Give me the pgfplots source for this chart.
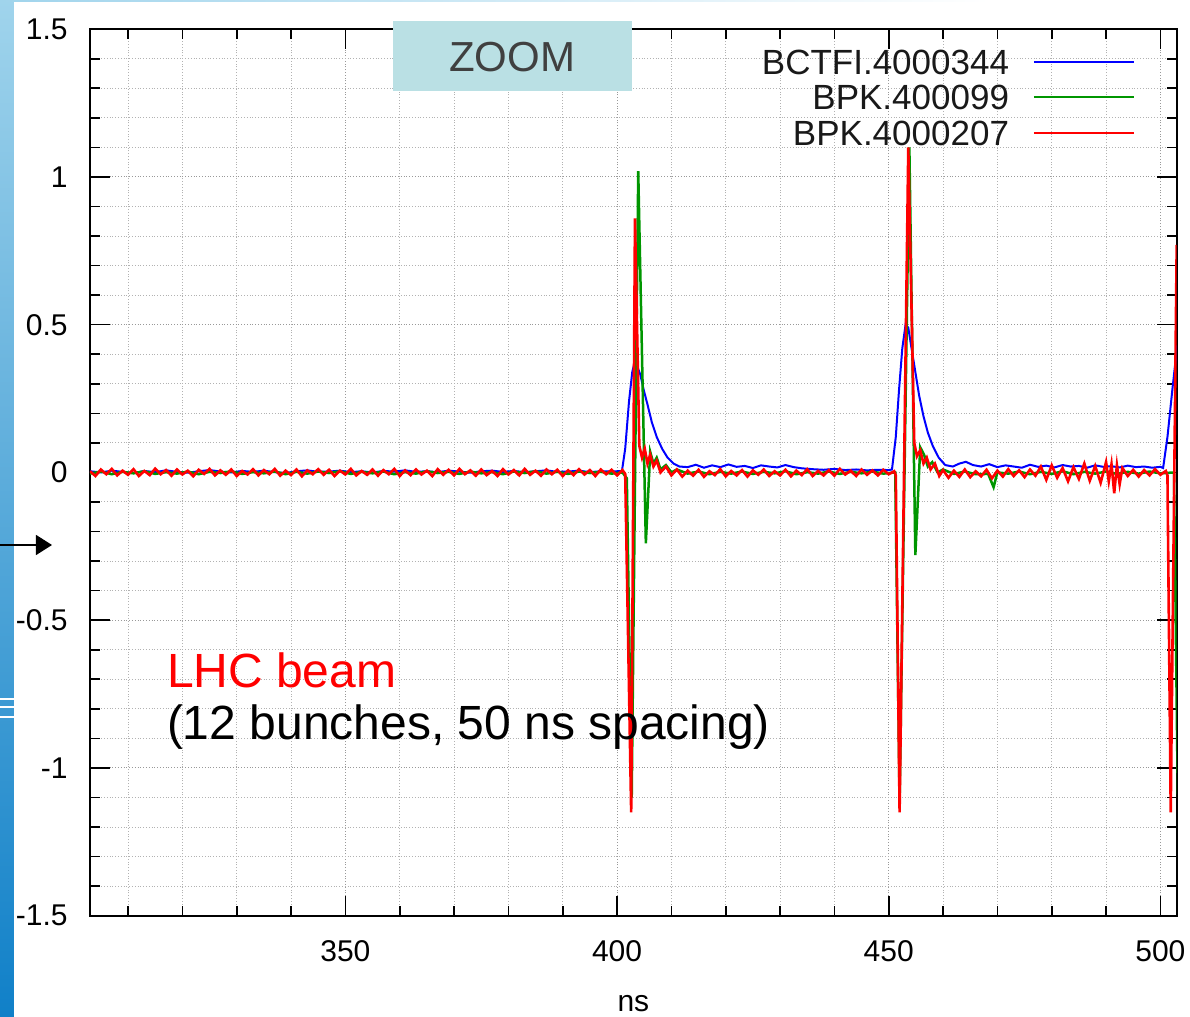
\documentclass[border=0pt]{standalone}
\usepackage{pgfplots}
\pgfplotsset{compat=1.18}
\usepackage{fontspec}
\setmainfont{Liberation Sans}
\usetikzlibrary{arrows.meta}
\definecolor{gpblue}{RGB}{0,0,255}
\definecolor{gpgreen}{RGB}{0,150,0}
\definecolor{gpred}{RGB}{255,0,0}
\definecolor{zoombox}{RGB}{186,224,228}
\definecolor{stripetop}{RGB}{160,212,236}
\definecolor{stripebot}{RGB}{16,128,200}
\definecolor{zoomtext}{RGB}{64,64,64}

\pgfplotstableread{
x y
303 0.004
305 0.000
307 0.006
309 0.002
311 -0.002
313 0.005
315 0.001
317 0.007
319 0.002
321 -0.001
323 0.004
325 0.008
327 0.003
329 0.000
331 0.005
333 0.002
335 0.006
337 0.001
339 -0.002
341 0.004
343 0.007
345 0.002
347 0.003
349 0.006
351 0.001
353 0.004
355 0.000
357 0.005
359 0.003
361 0.007
363 0.002
365 0.004
367 0.001
369 0.006
371 0.003
373 -0.001
375 0.004
377 0.006
379 0.002
381 0.005
383 0.001
385 0.004
387 0.007
389 0.002
391 0.003
393 0.006
395 0.001
397 0.004
399 0.003
400.9 0.005
401.5 0.08
402.2 0.24
402.8 0.34
403.2 0.37
403.7 0.36
404.3 0.33
404.9 0.28
405.6 0.23
406.4 0.17
407.3 0.12
408.3 0.08
409.3 0.05
410.4 0.03
411.5 0.02
413 0.018
414.5 0.026
416 0.016
417.5 0.024
419 0.018
420.5 0.027
422 0.019
423.5 0.022
425 0.015
426.5 0.024
428 0.020
429.5 0.017
431 0.025
432.5 0.018
434 0.014
436 0.011
438 0.009
440 0.012
442 0.008
444 0.010
446 0.007
448 0.009
450 0.008
450.6 0.010
451.3 0.12
451.9 0.28
452.5 0.42
453.1 0.50
453.6 0.49
454.2 0.42
454.9 0.34
455.6 0.26
456.4 0.19
457.2 0.135
458.1 0.09
459.2 0.05
460.4 0.025
461.8 0.020
463 0.030
464.2 0.036
465.5 0.025
467 0.020
468.5 0.028
470 0.018
471.5 0.024
473 0.020
474.5 0.016
476 0.026
477.5 0.019
479 0.023
480.5 0.017
482 0.025
483.5 0.020
485 0.022
486.5 0.016
488 0.024
489.5 0.019
491 0.021
492.5 0.017
494 0.023
495.5 0.018
497 0.020
498.5 0.016
500 0.019
500.5 0.015
501.3 0.12
502.2 0.28
503.1 0.43
}\bluedata

\pgfplotstableread{
x y
303 -0.004
305 0.003
307 -0.006
309 0.002
311 -0.003
313 0.004
315 -0.005
317 0.001
319 -0.004
321 0.003
323 -0.006
325 0.002
327 -0.002
329 0.004
331 -0.005
333 0.001
335 -0.003
337 0.003
339 -0.006
341 0.002
343 -0.004
345 0.003
347 -0.002
349 0.004
351 -0.005
353 0.002
355 -0.003
357 0.003
359 -0.006
361 0.001
363 -0.004
365 0.004
367 -0.002
369 0.002
371 -0.005
373 0.003
375 -0.003
377 0.001
379 -0.006
381 0.003
383 -0.002
385 0.004
387 -0.004
389 0.002
391 -0.005
393 0.003
395 -0.002
397 0.002
399 -0.004
401 0.000
401.8 -0.02
402.7 -1.10
403.9 1.02
405.3 -0.24
406.1 0.07
406.7 0.03
407.3 0.05
408 0.01
409 0.025
410 0.000
411 0.010
413 -0.004
415 0.003
417 -0.006
419 0.002
421 -0.004
423 0.003
425 -0.005
427 0.002
429 -0.003
431 0.004
433 -0.006
435 0.001
437 -0.004
439 0.003
441 -0.005
443 0.002
445 -0.003
447 0.003
449 -0.004
451.2 0.000
452.0 -1.12
453.8 1.10
454.9 -0.28
455.8 0.085
456.5 0.06
457.2 0.02
458 0.035
459 0.000
460 0.010
462 -0.005
464 0.003
466 -0.006
468.3 -0.005
469.3 -0.05
470 0.000
472 -0.004
474 0.003
476 -0.006
478 0.002
480 -0.005
482 0.004
484 -0.006
486 0.002
488 -0.004
490 0.003
492 -0.005
494 0.002
496 -0.004
498 0.003
500 -0.003
502.5 0.000
503.2 -1.10
}\greendata

\pgfplotstableread{
x y
303 0.004
304 -0.012
305 0.010
306 -0.006
307 0.012
308 -0.010
309 0.006
310 -0.008
311 0.011
312 -0.012
313 0.005
314 -0.009
315 0.013
316 -0.006
317 0.008
318 -0.011
319 0.010
320 -0.007
321 0.006
322 -0.013
323 0.009
324 -0.005
325 0.012
326 -0.010
327 0.007
328 -0.008
329 0.010
330 -0.012
331 0.005
332 -0.007
333 0.011
334 -0.010
335 0.008
336 -0.006
337 0.012
338 -0.011
339 0.006
340 -0.009
341 0.010
342 -0.013
343 0.007
344 -0.006
345 0.011
346 -0.008
347 0.009
348 -0.012
349 0.006
350 -0.007
351 0.012
352 -0.010
353 0.005
354 -0.008
355 0.010
356 -0.011
357 0.008
358 -0.006
359 0.012
360 -0.012
361 0.007
362 -0.009
363 0.010
364 -0.007
365 0.006
366 -0.012
367 0.011
368 -0.008
369 0.009
370 -0.010
371 0.012
372 -0.006
373 0.007
374 -0.011
375 0.010
376 -0.009
377 0.005
378 -0.012
379 0.011
380 -0.007
381 0.008
382 -0.010
383 0.012
384 -0.008
385 0.006
386 -0.011
387 0.010
388 -0.006
389 0.009
390 -0.012
391 0.007
392 -0.009
393 0.011
394 -0.007
395 0.008
396 -0.012
397 0.010
398 -0.006
399 0.009
400 -0.010
401 0.008
401.5 -0.005
402.6 -1.15
403.3 0.86
404.1 0.09
404.6 0.05
405.1 0.08
405.6 0.03
406.1 0.06
406.7 0.02
407.3 0.04
408 0.000
409 0.020
410 -0.010
411 0.010
412 -0.014
413 0.006
414 -0.011
415 0.009
416 -0.015
417 0.004
418 -0.009
419 0.011
420 -0.013
421 0.005
422 -0.010
423 0.008
424 -0.014
425 0.007
426 -0.008
427 0.010
428 -0.012
429 0.004
430 -0.010
431 0.009
432 -0.013
433 0.006
434 -0.009
435 0.011
436 -0.012
437 0.005
438 -0.010
439 0.008
440 -0.011
441 0.012
442 -0.007
443 0.006
444 -0.012
445 0.010
446 -0.008
447 0.007
448 -0.010
449 0.009
450 -0.006
451 0.004
451.3 -0.010
452.0 -1.15
453.6 1.10
454.7 0.10
455.2 0.055
455.8 0.075
456.4 0.030
457 0.050
457.7 0.010
458.5 0.030
459.3 -0.012
460 0.008
461 -0.018
462 0.006
463 -0.015
464 0.010
465 -0.016
466 0.004
467 -0.013
468 0.009
469 -0.020
470 0.006
471 -0.014
472 0.011
473 -0.012
474 0.007
475 -0.016
476 0.010
477 -0.011
478 0.020
479 -0.025
480 0.024
481 -0.018
482 0.015
483 -0.030
484 0.018
485 -0.022
486 0.030
487 -0.028
488 0.022
489 -0.035
490 0.035
490.5 -0.030
491 0.028
491.5 -0.070
492 0.025
492.5 -0.040
493 0.015
494 -0.012
495 0.009
496 -0.014
497 0.008
498 -0.010
499 0.011
500 -0.008
501 0.005
501.3 -0.010
501.9 -1.15
503.0 0.77
}\reddata

\begin{document}
\begin{tikzpicture}
\path[use as bounding box] (-45pt,-50.65pt) rectangle (550pt,457.85pt);
% slide decoration
\shade[top color=stripetop, bottom color=stripebot] (-45pt,-50.65pt) rectangle (-38pt,457.85pt);
\shade[left color=stripetop, right color=white] (-45pt,456.85pt) rectangle (450pt,457.85pt);
\fill[white] (-45pt,107.6pt) rectangle (-38pt,108.6pt);
\fill[white] (-45pt,103.6pt) rectangle (-38pt,104.6pt);
\fill[white] (-45pt,98.6pt) rectangle (-38pt,99.6pt);
\draw[line width=0.6pt, -{Triangle[length=8pt,width=10pt]}] (-45pt,185.35pt) -- (-19pt,185.35pt);
\begin{axis}[
  at={(0pt,0pt)}, anchor=south west,
  scale only axis, width=543.35pt, height=443.25pt,
  xmin=303, xmax=503, ymin=-1.5, ymax=1.5,
  xtick={300,350,...,500}, ytick={-1.5,-1,...,1.5},
  minor x tick num=4, minor y tick num=4,
  grid=both,
  major grid style={densely dotted, black!40, line width=0.5pt},
  minor grid style={densely dotted, black!30, line width=0.5pt},
  tick align=inside,
  major tick length=10pt, minor tick length=5pt,
  every tick/.style={black, line width=0.8pt},
  axis line style={black, line width=1.1pt},
  /pgf/number format/assume math mode=true,
  ticklabel style={font=\fontsize{15}{18}\selectfont, text=black},
  xticklabel style={anchor=center, yshift=-17.6pt},
  yticklabel style={anchor=east, inner sep=0pt, xshift=-11pt},
  xlabel={ns},
  xlabel style={at={(axis description cs:0.5,0)}, anchor=center, yshift=-44pt, font=\fontsize{15}{18}\selectfont},
  legend style={draw=none, fill=none, at={(rel axis cs:1,1)}, anchor=north east,
    xshift=-20.85pt, yshift=-10.15pt, inner sep=0pt, outer sep=0pt,
    row sep=5.25pt, column sep=12pt,
    nodes={inner sep=0pt, text height=12.5pt, text depth=0pt, font=\fontsize{17.5}{20}\selectfont, text=black!90}},
  legend cell align=right,
  legend plot pos=right,
  legend image code/.code={\draw[#1, line width=1pt] (0pt,0pt) -- (50pt,0pt);},
]
\addplot[gpblue, line width=1pt] table[x=x, y=y] {\bluedata};
\addlegendentry{BCTFI.4000344}
\addplot[gpgreen, line width=1.25pt] table[x=x, y=y] {\greendata};
\addlegendentry{BPK.400099}
\addplot[gpred, line width=1.3pt] table[x=x, y=y] {\reddata};
\addlegendentry{BPK.4000207}
\node[anchor=base west, inner sep=0pt, text=gpred, font=\fontsize{24}{28}\selectfont] at (axis cs:317.1,-0.728) {LHC beam};
\node[anchor=base west, inner sep=0pt, text=black, font=\fontsize{24}{28}\selectfont] at (axis cs:317.1,-0.904) {(12 bunches, 50 ns spacing)};
\end{axis}
% ZOOM box
\fill[zoombox] (151.35pt,412.5pt) rectangle (271pt,447.5pt);
\node[text=zoomtext, font=\fontsize{21}{24}\selectfont, inner sep=0pt] at (211pt,429.2pt) {ZOOM};
\end{tikzpicture}
\end{document}
